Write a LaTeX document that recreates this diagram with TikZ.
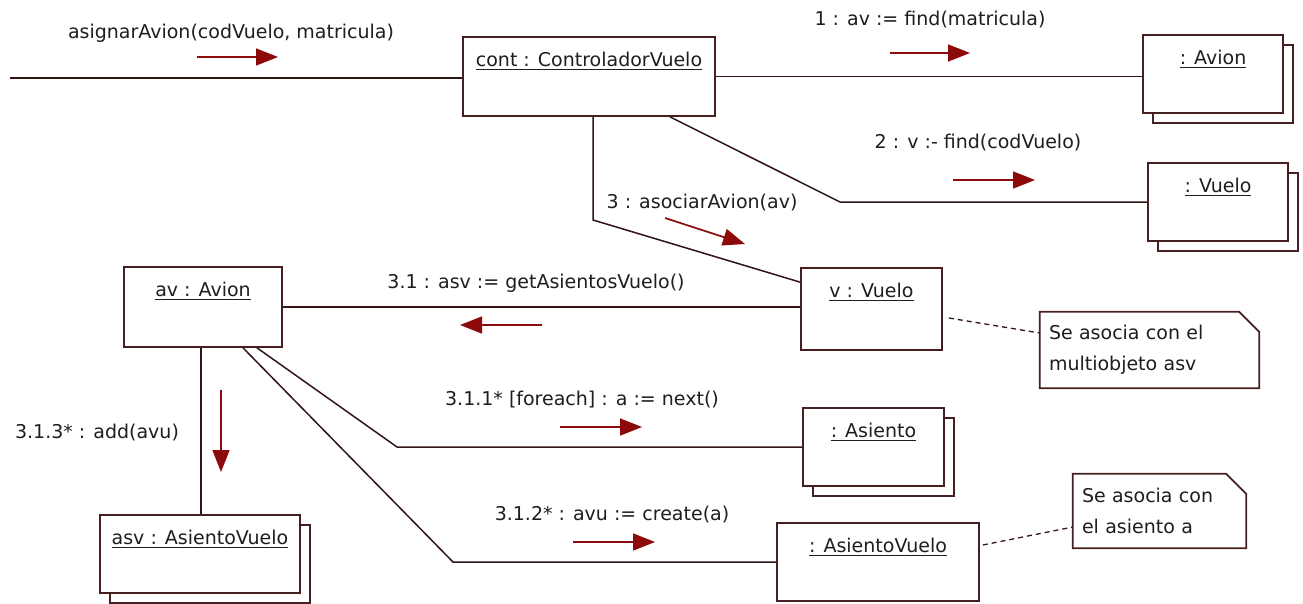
\documentclass[tikz,border=0pt]{standalone}
\usepackage{fontspec}
\setmainfont{DejaVu Sans}
\usetikzlibrary{arrows.meta,calc}
\definecolor{lineC}{RGB}{50,22,22}
\definecolor{boxC}{RGB}{70,32,32}
\definecolor{msgC}{RGB}{140,10,10}
\definecolor{txtC}{RGB}{30,30,30}
\newsavebox\objbox
\newcommand\objul[1]{\sbox\objbox{#1}\rlap{\rule[-4pt]{\wd\objbox}{1.4pt}}\usebox\objbox}
\tikzset{
  obj/.style={draw=boxC, line width=1.7pt, fill=white, inner sep=0pt,
    text height=29pt, text depth=49pt},
  notebox/.style={inner xsep=9pt, inner ysep=0pt, align=left,
    font=\fontsize{19pt}{31pt}\selectfont},
  notedraw/.style={draw=boxC, line width=1.7pt, fill=white},
  conn/.style={draw=lineC, line width=1.5pt},
  dashline/.style={draw=lineC, line width=1.3pt, dash pattern=on 5pt off 4pt},
  msg/.style={draw=msgC, line width=1.7pt, -{Triangle[length=22pt,width=17pt]}},
  lbl/.style={inner sep=0pt, text=txtC}
}
\begin{document}
\begin{tikzpicture}[x=1pt,y=-1pt,font=\fontsize{19pt}{30pt}\selectfont,text=txtC]
\fill[white] (0,0) rectangle (1303,603);
\useasboundingbox (0,0) rectangle (1303,603);

% object boxes
\node[obj, text depth=50pt, minimum width=252pt] (cont) at (589,76.5) {\objul{cont : ControladorVuelo}};
\node[obj, minimum width=140pt] (avionB) at (1223,84) {};
\node[obj, minimum width=140pt] (avion) at (1213,74) {\objul{: Avion}};
\node[obj, minimum width=140pt] (vueloB) at (1228,212) {};
\node[obj, minimum width=140pt] (vuelo) at (1218,202) {\objul{: Vuelo}};
\node[obj, text depth=53pt, minimum width=141pt] (v) at (871.5,309) {\objul{v : Vuelo}};
\node[obj, text depth=51pt, minimum width=158pt] (av) at (203,307) {\objul{av : Avion}};
\node[obj, minimum width=200pt] (asvB) at (210,564) {};
\node[obj, minimum width=200pt] (asv) at (200,554) {\objul{asv : AsientoVuelo}};
\node[obj, minimum width=141pt] (asientoB) at (883.5,457) {};
\node[obj, minimum width=141pt] (asiento) at (873.5,447) {\objul{: Asiento}};
\node[obj, minimum width=202pt] (asvu) at (878,562) {\objul{: AsientoVuelo}};

% notes
\node[notebox, minimum width=219pt, minimum height=76pt, text width=201pt] (note1) at (1149.5,350) {};
\draw[notedraw] (note1.north west) -- ([xshift=-20pt]note1.north east) -- ([yshift=-20pt]note1.north east) -- (note1.south east) -- (note1.south west) -- cycle;
\node[notebox, minimum width=219pt, minimum height=76pt, text width=201pt] at (note1.center) {Se asocia con el\\multiobjeto asv};
\node[notebox, minimum width=173pt, minimum height=74pt, text width=155pt] (note2) at (1159.5,511) {};
\draw[notedraw] (note2.north west) -- ([xshift=-20pt]note2.north east) -- ([yshift=-20pt]note2.north east) -- (note2.south east) -- (note2.south west) -- cycle;
\node[notebox, minimum width=173pt, minimum height=74pt, text width=155pt] at (note2.center) {Se asocia con\\el asiento a};

% links
\coordinate (inA) at (10,78);
\draw[conn] (inA) -- (inA -| cont.west);
\draw[conn] (cont.east) -- (cont.east -| avion.west);
\coordinate (b1) at (840,202);
\draw[conn] ([xshift=81pt]cont.south) -- (b1) -- (b1 -| vuelo.west);
\coordinate (b2) at (593,220);
\draw[conn] (b2 |- cont.south) -- (b2) -- ([yshift=-15pt]v.north west);
\draw[conn] (av.east) -- (av.east -| v.west);
\draw[conn] ([xshift=-2pt]av.south) -- ([xshift=-2pt]av.south |- asv.north);
\coordinate (b3) at (397,447);
\draw[conn] ([xshift=54pt]av.south) -- (b3) -- (asiento.west);
\coordinate (b4) at (453,562);
\draw[conn] ([xshift=40pt]av.south) -- (b4) -- (asvu.west);
\draw[dashline] ([xshift=6pt,yshift=-9pt]v.east) -- ([yshift=17pt]note1.west);
\draw[dashline] ([xshift=3pt,yshift=17pt]asvu.east) -- ([yshift=-16pt]note2.west);

% messages
\draw[msg] (197,57) -- (278,57);
\draw[msg] (890,53) -- (970,53);
\draw[msg] (953,180) -- (1035,180);
\draw[msg] (665,218) -- (745,244);
\draw[msg] (542,325) -- (460,325);
\draw[msg] (221,390) -- (221,472);
\draw[msg] (560,427) -- (642,427);
\draw[msg] (573,542) -- (655,542);

% labels
\node[lbl] (l0) at (231,33) {asignarAvion(codVuelo, matricula)};
\node[lbl] (l1) at (930,20) {1 : av := find(matricula)};
\node[lbl] (l2) at (978,143) {2 : v :- find(codVuelo)};
\node[lbl] (l3) at (702,203) {3 : asociarAvion(av)};
\node[lbl] (l31) at (536,283) {3.1 : asv := getAsientosVuelo()};
\node[lbl] (l311) at (582,400) {3.1.1* [foreach] : a := next()};
\node[lbl] (l312) at (612,515) {3.1.2* : avu := create(a)};
\node[lbl] (l313) at (97,433) {3.1.3* : add(avu)};
\end{tikzpicture}
\end{document}
